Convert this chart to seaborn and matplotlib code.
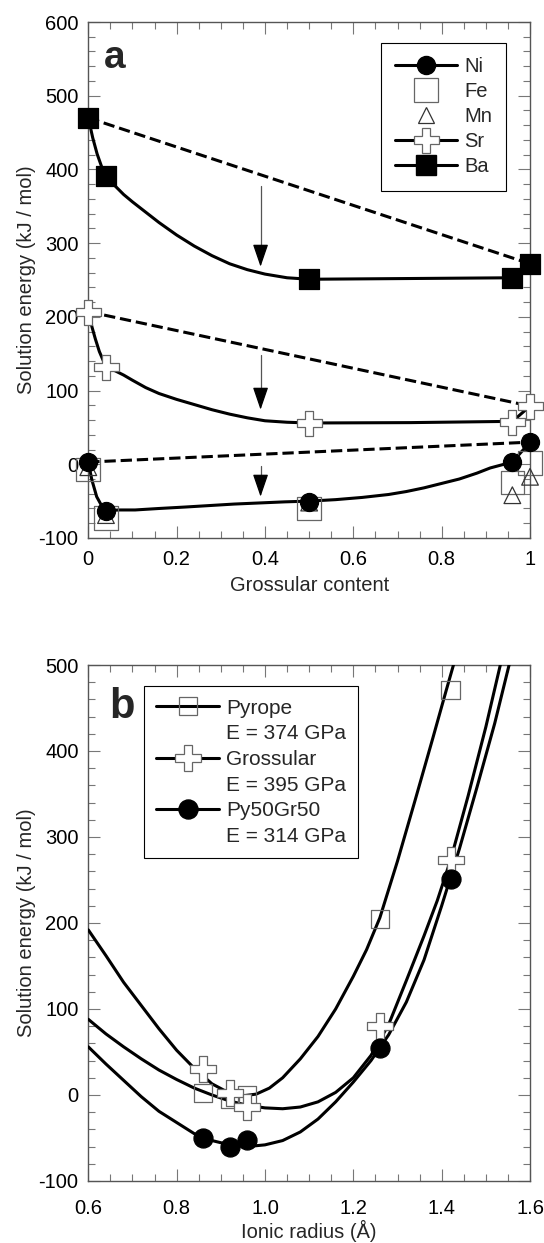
import matplotlib
matplotlib.use("Agg")
import matplotlib.pyplot as plt
from matplotlib.lines import Line2D
from matplotlib.ticker import FixedLocator, MultipleLocator
import seaborn as sns

# ---- panel a: solution energy vs grossular content ----
grs = [0.0, 0.04, 0.5, 0.96, 1.0]
ni_e = [3, -63, -51, 3, 30]
fe_e = [-7, -73, -60, -25, 2]
mn_e = [-4, -69, -52, -42, -17]
sr_e = [207, 132, 56, 58, 79]
ba_e = [470, 391, 251, 253, 272]

# fitted curves
ba_fit_x = [0, 0.01, 0.02, 0.03, 0.04, 0.06, 0.08, 0.10, 0.13, 0.16, 0.20, 0.24, 0.28,
            0.32, 0.36, 0.40, 0.45, 0.50, 0.73, 0.96, 1.0]
ba_fit_y = [470, 443, 421, 404, 391, 378, 366, 356, 342, 328, 311, 296, 283,
            272, 264, 258, 253, 251, 252, 253, 272]
sr_fit_x = [0, 0.008, 0.016, 0.025, 0.04, 0.06, 0.08, 0.10, 0.13, 0.16, 0.20, 0.24, 0.28,
            0.32, 0.36, 0.40, 0.45, 0.50, 0.73, 0.93, 0.96, 1.0]
sr_fit_y = [207, 187, 170, 153, 132, 127, 121, 114, 104, 96, 88, 81, 74,
            68, 63, 59, 57, 56, 56.5, 58, 58, 79]
ni_fit_x = [0, 0.008, 0.019, 0.03, 0.04, 0.07, 0.106, 0.16, 0.22, 0.33, 0.445, 0.50, 0.56,
            0.62, 0.68, 0.72, 0.76, 0.80, 0.84, 0.88, 0.91, 0.96, 1.0]
ni_fit_y = [3, -21, -44, -56, -63, -62, -62, -60, -58, -54, -51, -50, -48,
            -45, -41, -37, -32, -26, -20, -12, -5, 3, 30]

# arrows (x, start, end)
arrow_x = 0.39
arrow_start = [377, 148, -3]
arrow_end = [268, 74, -44]

a_xticks = [0, 0.2, 0.4, 0.6, 0.8, 1.0]
a_xticklabels = ["0", "0.2", "0.4", "0.6", "0.8", "1"]
a_yticks = [-100, 0, 100, 200, 300, 400, 500, 600]

# ---- panel b: solution energy vs ionic radius ----
radius = [0.86, 0.92, 0.96, 1.26, 1.42]
pyrope_e = [2, -5, 0, 205, 471]
grossular_e = [30, 2, -14, 80, 273]
py50gr50_e = [-50, -60, -52, 55, 251]

pyrope_fit_x = [0.60, 0.64, 0.68, 0.72, 0.76, 0.80, 0.84, 0.88, 0.92, 0.95, 0.98, 1.01, 1.04,
                1.08, 1.12, 1.16, 1.20, 1.23, 1.26, 1.30, 1.34, 1.38, 1.41, 1.43]
pyrope_fit_y = [192, 162, 131, 104, 77, 52, 31, 13, 2, -1, 1, 8, 20,
                42, 68, 100, 138, 169, 206, 272, 343, 415, 470, 506]
grossular_fit_x = [0.60, 0.64, 0.68, 0.72, 0.76, 0.80, 0.84, 0.88, 0.92, 0.96, 1.00, 1.04, 1.08,
                   1.12, 1.16, 1.20, 1.24, 1.28, 1.32, 1.36, 1.39, 1.42, 1.46, 1.50, 1.535]
grossular_fit_y = [88, 71, 56, 42, 29, 18, 8, 0, -7, -12, -15, -16, -14,
                   -8, 3, 20, 46, 82, 133, 185, 226, 273, 348, 428, 505]
py50_fit_x = [0.60, 0.64, 0.68, 0.72, 0.76, 0.80, 0.84, 0.88, 0.92, 0.96, 1.00, 1.04, 1.08,
              1.12, 1.16, 1.20, 1.24, 1.28, 1.32, 1.36, 1.40, 1.44, 1.48, 1.52, 1.555]
py50_fit_y = [56, 36, 17, -2, -19, -32, -45, -53, -58, -60, -58, -53, -43,
              -28, -8, 15, 40, 70, 108, 157, 220, 286, 358, 432, 505]

b_xticks = [0.6, 0.8, 1.0, 1.2, 1.4, 1.6]
b_xticklabels = ["0.6", "0.8", "1.0", "1.2", "1.4", "1.6"]
b_yticks = [-100, 0, 100, 200, 300, 400, 500]

legend_b = ["Pyrope", "E = 374 GPa", "Grossular", "E = 395 GPa", "Py50Gr50", "E = 314 GPa"]

sns.set_theme(style="ticks")
plt.rcParams["font.family"] = ["Liberation Sans", "DejaVu Sans"]

GREY = "#666666"
LW = 2.2

fig = plt.figure(figsize=(5.44, 12.43), dpi=100)
ax_a = fig.add_axes([0.1623, 0.5672, 0.812, 0.4151])
ax_b = fig.add_axes([0.1623, 0.0499, 0.812, 0.4151])


def style_axes(ax, xticks, xlabels, yticks, xminor, yminor, xpad):
    ax.xaxis.set_major_locator(FixedLocator(xticks))
    ax.set_xticklabels(xlabels)
    ax.yaxis.set_major_locator(FixedLocator(yticks))
    ax.set_yticklabels([str(v) for v in yticks])
    ax.xaxis.set_minor_locator(MultipleLocator(xminor))
    ax.yaxis.set_minor_locator(MultipleLocator(yminor))
    ax.tick_params(which="both", direction="in", top=True, right=True,
                   color="#777777", width=0.8, labelsize=14.5, labelcolor="black")
    ax.tick_params(which="major", length=8.4)
    ax.tick_params(which="minor", length=4.8)
    ax.tick_params(axis="x", pad=xpad)
    ax.tick_params(axis="y", pad=7)
    for s in ax.spines.values():
        s.set_color("#555555")
        s.set_linewidth(1.0)


def curve(ax, x, y, **kw):
    sns.lineplot(x=x, y=y, ax=ax, color="black", lw=LW, sort=False,
                 estimator=None, legend=False, **kw)


def points(ax, x, y, marker, ms, fc, ec, z, lw=0.9):
    sns.scatterplot(x=x, y=y, ax=ax, marker=marker, s=ms ** 2, facecolor=fc,
                    edgecolor=ec, linewidth=lw, zorder=z, clip_on=False, legend=False)


# ---------------- panel a ----------------
ax = ax_a
for e in (ba_e, sr_e, ni_e):
    sns.lineplot(x=[grs[0], grs[-1]], y=[e[0], e[-1]], ax=ax, color="black", lw=LW,
                 linestyle="--", estimator=None, legend=False, zorder=2)
curve(ax, ba_fit_x, ba_fit_y, zorder=2)
curve(ax, sr_fit_x, sr_fit_y, zorder=2)
curve(ax, ni_fit_x, ni_fit_y, zorder=2)

for s0, s1 in zip(arrow_start, arrow_end):
    ax.plot([arrow_x, arrow_x], [s0, s1 + 10], color="#555555", lw=0.9, zorder=2)
    ax.annotate("", xy=(arrow_x, s1), xytext=(arrow_x, s1 + 12),
                arrowprops=dict(arrowstyle="-|>,head_length=0.7,head_width=0.24",
                                mutation_scale=20, color="black", lw=0.9,
                                shrinkA=0, shrinkB=0), zorder=3)

points(ax, grs, fe_e, "s", 17, "none", GREY, 3)
points(ax, grs, mn_e, "^", 12, "none", "#333333", 3)
points(ax, grs, sr_e, "P", 18, "white", GREY, 4)
points(ax, grs, ni_e, "o", 13, "black", "black", 5)
points(ax, grs, ba_e, "s", 14, "black", "black", 5)

ax.set_xlim(0, 1)
ax.set_ylim(-100, 600)
style_axes(ax, a_xticks, a_xticklabels, a_yticks, 0.05, 20, 9)
ax.set_xlabel("Grossular content", fontsize=14.5, labelpad=5)
ax.set_ylabel("Solution energy (kJ / mol)", fontsize=14.5, labelpad=2)
ax.text(0.036, 0.911, "a", transform=ax.transAxes, fontsize=28, fontweight="bold",
        ha="left", va="baseline")

handles_a = [
    Line2D([], [], color="black", lw=LW, marker="o", ms=13, mfc="black", mec="black"),
    Line2D([], [], ls="none", marker="s", ms=17, mfc="none", mec=GREY, mew=0.9),
    Line2D([], [], ls="none", marker="^", ms=12, mfc="none", mec="#333333", mew=0.9),
    Line2D([], [], color="black", lw=LW, marker="P", ms=18, mfc="white", mec=GREY, mew=0.9),
    Line2D([], [], color="black", lw=LW, marker="s", ms=14, mfc="black", mec="black"),
]
leg = ax.legend(handles_a, ["Ni", "Fe", "Mn", "Sr", "Ba"], loc="upper right",
                bbox_to_anchor=(0.946, 0.959), borderaxespad=0, fontsize=14.5,
                numpoints=1, handlelength=3.08, handletextpad=0.35, labelspacing=0.3,
                borderpad=0.7, fancybox=False, framealpha=1, edgecolor="black")
leg.get_frame().set_linewidth(0.8)

# ---------------- panel b ----------------
ax = ax_b
curve(ax, pyrope_fit_x, pyrope_fit_y, zorder=3)
curve(ax, grossular_fit_x, grossular_fit_y, zorder=3)
curve(ax, py50_fit_x, py50_fit_y, zorder=3)
points(ax, radius, pyrope_e, "s", 13, "none", GREY, 4)
points(ax, radius, grossular_e, "P", 18.5, "white", GREY, 5)
points(ax, radius, py50gr50_e, "o", 13.7, "black", "black", 6)

ax.set_xlim(0.6, 1.6)
ax.set_ylim(-100, 500)
style_axes(ax, b_xticks, b_xticklabels, b_yticks, 0.05, 20, 13)
ax.set_xlabel("Ionic radius (Å)", fontsize=14.5, labelpad=1.5)
ax.set_ylabel("Solution energy (kJ / mol)", fontsize=14.5, labelpad=2)
ax.text(0.048, 0.897, "b", transform=ax.transAxes, fontsize=30, fontweight="bold",
        ha="left", va="baseline")

blank = Line2D([], [], ls="none")
handles_b = [
    Line2D([], [], color="black", lw=LW, marker="s", ms=13, mfc="none", mec=GREY, mew=0.9),
    blank,
    Line2D([], [], color="black", lw=LW, marker="P", ms=18.5, mfc="white", mec=GREY, mew=0.9),
    blank,
    Line2D([], [], color="black", lw=LW, marker="o", ms=13.7, mfc="black", mec="black"),
    blank,
]
leg = ax.legend(handles_b, legend_b, loc="upper left", bbox_to_anchor=(0.126, 0.959),
                borderaxespad=0, fontsize=15, numpoints=1, handlelength=3.0,
                handletextpad=0.33, labelspacing=0.32, borderpad=0.6, fancybox=False,
                framealpha=1, edgecolor="black")
leg.get_frame().set_linewidth(0.8)

fig.savefig("out.png", dpi=100)
